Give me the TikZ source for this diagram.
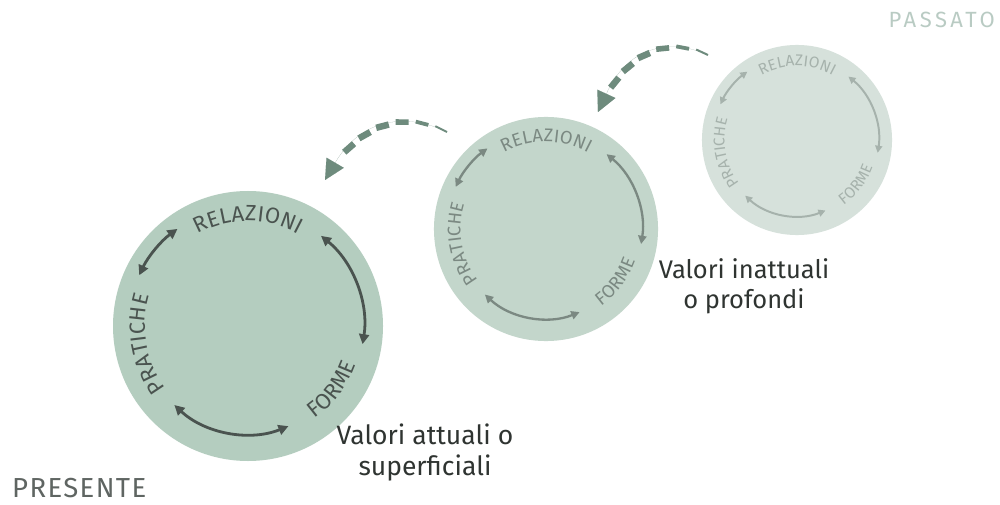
\documentclass[tikz,border=0pt]{standalone}
\usepackage{fontspec}
\setmainfont{Fira Sans}
\newfontfamily\arcfont{Fira Sans}
\usetikzlibrary{arrows.meta,decorations.text,decorations.markings}

\definecolor{ringA}{HTML}{B4CDBF}
\definecolor{ringB}{HTML}{C3D6CB}
\definecolor{ringC}{HTML}{D6E1DB}
\definecolor{inkA}{HTML}{4A534F}
\definecolor{inkB}{HTML}{7B8982}
\definecolor{inkC}{HTML}{A6B2AC}
\definecolor{flow}{HTML}{6E8B7D}
\definecolor{caption}{HTML}{2F3431}
\definecolor{nowtext}{HTML}{5F6562}
\definecolor{pasttext}{HTML}{B9CBC3}

\tikzset{
  ring/.style={circle, inner sep=0pt, draw=none},
  captiontext/.style={text=caption, align=center, inner sep=0pt},
  % tapering dashes along a curve
  flowdash/.style={decorate,
    decoration={markings,
      mark=between positions 0 and -34pt step 20pt with {%
        \pgfmathsetmacro\dw{min(6.5,2+1.8*(\pgfkeysvalueof{/pgf/decoration/mark info/sequence number}-1))}%
        \fill[flow] (0,-\dw/2) rectangle (13,\dw/2);}}},
  % the head of the same curve
  flowhead/.style={draw=flow, line width=0.01pt,
    -{Triangle[length=20pt,width=20pt]}}
}

% one cycle: relations, forms, practices linked by two-way arcs
% #1 name, #2 centre, #3 scale, #4 fill, #5 ink
\newcommand\cycleview[5]{%
  \pgfmathsetmacro\cvd{270*#3}%
  \pgfmathsetmacro\cvfs{22*#3}%
  \pgfmathsetmacro\cvgap{0.3*#3}%
  \pgfmathsetmacro\cvlw{2.8*#3}%
  \pgfmathsetmacro\cvtip{10*#3}%
  \node[ring, fill=#4, minimum size=\cvd pt] (#1) at (#2) {};
  \begin{scope}[shift={(#1.center)}, scale=#3, line width=\cvlw pt, color=#5,
      >={Triangle[length=\cvtip pt, width=\cvtip pt]}]
    \draw[<->] (155:120) arc[start angle=155, end angle=126, radius=120];
    \draw[<->] (51:116) arc[start angle=51, end angle=-9, radius=116];
    \draw[<->] (227:108) arc[start angle=227, end angle=292, radius=108];
    \path[decorate, decoration={text along path, text align=center,
        text={|\arcfont\fontsize{\cvfs}{\cvfs}\selectfont\color{#5}|R{\kern\cvgap pt}E{\kern\cvgap pt}L{\kern\cvgap pt}A{\kern\cvgap pt}Z{\kern\cvgap pt}I{\kern\cvgap pt}O{\kern\cvgap pt}N{\kern\cvgap pt}I}}]
      (150:105) arc[start angle=150, end angle=30, radius=105];
    \path[decorate, decoration={text along path, text align=center,
        text={|\arcfont\fontsize{\cvfs}{\cvfs}\selectfont\color{#5}|P{\kern\cvgap pt}R{\kern\cvgap pt}A{\kern\cvgap pt}T{\kern\cvgap pt}I{\kern\cvgap pt}C{\kern\cvgap pt}H{\kern\cvgap pt}E}}]
      (240:103) arc[start angle=240, end angle=140, radius=103];
    \path[decorate, decoration={text along path, text align=center,
        text={|\arcfont\fontsize{\cvfs}{\cvfs}\selectfont\color{#5}|F{\kern\cvgap pt}O{\kern\cvgap pt}R{\kern\cvgap pt}M{\kern\cvgap pt}E}}]
      (-77:114) arc[start angle=-77, end angle=3, radius=114];
  \end{scope}}

\begin{document}
\begin{tikzpicture}[x=1pt, y=1pt]
  \useasboundingbox (0,0) rectangle (1000,504);
  \fill[white] (0,0) rectangle (1000,504);

  \cycleview{c3}{797,364}{0.704}{ringC}{inkC}
  \cycleview{c2}{546,275}{0.83}{ringB}{inkB}
  \cycleview{c1}{248,178}{1}{ringA}{inkA}

  % movement from past towards present
  \coordinate (f2s) at (708,449);
  \coordinate (f2e) at (598,392);
  \coordinate (f1s) at (447,372);
  \coordinate (f1e) at (325,324);
  \path[flowdash] (f2s) .. controls (680,462) and (632,466) .. (f2e);
  \draw[flowhead] (f2s) .. controls (680,462) and (632,466) .. (f2e);
  \path[flowdash] (f1s) .. controls (415,388) and (365,392) .. (f1e);
  \draw[flowhead] (f1s) .. controls (415,388) and (365,392) .. (f1e);

  \node[captiontext, font=\fontsize{26.5}{30.5}\selectfont, anchor=north] (v1) at (425,80) {Valori attuali o\\superficiali};
  \node[captiontext, font=\fontsize{25.5}{30}\selectfont, anchor=north] (v2) at (744,246) {Valori inattuali\\o profondi};

  \node[font=\addfontfeatures{LetterSpace=5}\fontsize{27.5}{27.5}\selectfont, text=nowtext, anchor=base west, inner sep=0pt] (now) at (12,7) {PRESENTE};
  \node[font=\addfontfeatures{LetterSpace=16}\fontsize{22}{22}\selectfont, text=pasttext, anchor=base east, inner sep=0pt] (past) at (995,476) {PASSATO};
\end{tikzpicture}
\end{document}
